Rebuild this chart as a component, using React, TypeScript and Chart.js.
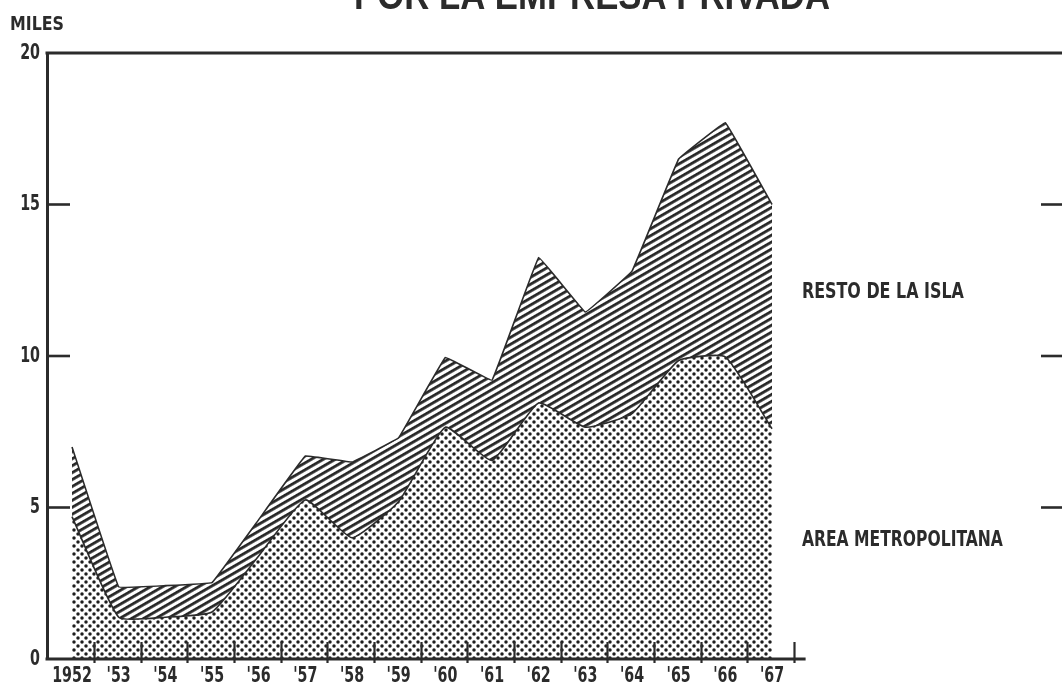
import { useEffect, useRef } from 'react';
import { Chart, registerables } from 'chart.js';

Chart.register(...registerables);

// ---- data ----
const years = [1952, 1953, 1954, 1955, 1956, 1957, 1958, 1959, 1960, 1961, 1962, 1963, 1964, 1965, 1966, 1967];
const xLabels = ['1952', "'53", "'54", "'55", "'56", "'57", "'58", "'59", "'60", "'61", "'62", "'63", "'64", "'65", "'66", "'67"];
const metroValues = [4.7, 1.38, 1.38, 1.55, 3.4, 5.25, 4.0, 5.2, 7.65, 6.55, 8.45, 7.65, 8.1, 9.85, 9.97, 7.6];
const restoValues = [2.3, 1.0, 1.04, 0.97, 1.2, 1.45, 2.5, 2.1, 2.3, 2.65, 4.8, 3.8, 4.7, 6.65, 7.73, 7.4];
const yTicks = [0, 5, 10, 15, 20];
const yTickLabels = ['0', '5', '10', '15', '20'];
const seriesNames = ['AREA METROPOLITANA', 'RESTO DE LA ISLA'];
const titleText = 'POR LA EMPRESA PRIVADA';
const yUnit = 'MILES';

const INK = '#2b2b2b';
const FONT = "'DejaVu Sans Condensed', 'DejaVu Sans', sans-serif";

function dotPattern(ctx: CanvasRenderingContext2D) {
  const c = document.createElement('canvas');
  c.width = 8;
  c.height = 8;
  const g = c.getContext('2d')!;
  g.fillStyle = '#ffffff';
  g.fillRect(0, 0, 8, 8);
  g.fillStyle = '#1e1e1e';
  for (const [px, py] of [[2, 2], [6, 6]]) {
    g.beginPath();
    g.arc(px, py, 1.75, 0, Math.PI * 2);
    g.fill();
  }
  return ctx.createPattern(c, 'repeat')!;
}

function hatchPattern(ctx: CanvasRenderingContext2D) {
  const c = document.createElement('canvas');
  c.width = 12;
  c.height = 6;
  const g = c.getContext('2d')!;
  g.fillStyle = '#ffffff';
  g.fillRect(0, 0, 12, 6);
  g.fillStyle = '#262626';
  g.fillRect(0, 0, 12, 2.8);
  const p = ctx.createPattern(c, 'repeat')!;
  p.setTransform(new DOMMatrix().rotate(-30));
  return p;
}

function drawText(ctx: CanvasRenderingContext2D, text: string, x: number, y: number, align: CanvasTextAlign, sx: number) {
  ctx.save();
  ctx.translate(x, y);
  ctx.scale(sx, 1);
  ctx.textAlign = align;
  ctx.fillText(text, 0, 0);
  ctx.restore();
}

const decor = {
  id: 'decor',
  beforeDraw(chart: any) {
    const { ctx, width, height } = chart;
    ctx.save();
    ctx.fillStyle = '#ffffff';
    ctx.fillRect(0, 0, width, height);
    ctx.restore();
  },
  afterDraw(chart: any) {
    const { ctx, chartArea: a } = chart;
    const x = chart.scales.x;
    const y = chart.scales.y;
    ctx.save();
    ctx.strokeStyle = INK;
    ctx.lineCap = 'butt';
    const yTop = y.getPixelForValue(yTicks[yTicks.length - 1]);
    const y0 = y.getPixelForValue(0);
    // top frame line
    ctx.lineWidth = 3;
    ctx.beginPath();
    ctx.moveTo(a.left - 1.5, yTop);
    ctx.lineTo(a.right, yTop);
    ctx.stroke();
    // bottom axis
    ctx.beginPath();
    ctx.moveTo(a.left - 1.5, y0);
    ctx.lineTo(x.getPixelForValue(years[years.length - 1] + 0.72), y0);
    ctx.stroke();
    // x tick marks (between years)
    ctx.lineWidth = 2.2;
    for (const yr of years) {
      const px = Math.round(x.getPixelForValue(yr + 0.47)) + 0.5;
      ctx.beginPath();
      ctx.moveTo(px, y0 - 17);
      ctx.lineTo(px, y0 + 4);
      ctx.stroke();
    }
    // y tick marks (inner left and right edge)
    ctx.lineWidth = 2.6;
    for (const v of yTicks.slice(1, -1)) {
      const py = y.getPixelForValue(v);
      ctx.beginPath();
      ctx.moveTo(a.left, py);
      ctx.lineTo(a.left + 23, py);
      ctx.stroke();
      ctx.beginPath();
      ctx.moveTo(a.right - 21, py);
      ctx.lineTo(a.right, py);
      ctx.stroke();
    }
    // tick labels
    ctx.fillStyle = INK;
    ctx.textBaseline = 'middle';
    ctx.font = `bold 22px ${FONT}`;
    years.forEach((yr, i) => {
      drawText(ctx, xLabels[i], x.getPixelForValue(yr), y0 + 17, 'center', 0.72);
    });
    yTicks.forEach((v, i) => {
      drawText(ctx, yTickLabels[i], a.left - 7, y.getPixelForValue(v), 'right', 0.72);
    });
    // texts
    ctx.font = `bold 20px ${FONT}`;
    drawText(ctx, yUnit, 10, 25, 'left', 0.88);
    ctx.textAlign = 'left';
    ctx.font = `bold 21px ${FONT}`;
    ctx.fillText(seriesNames[1], x.getPixelForValue(1967.64), y.getPixelForValue(12.1), 162);
    ctx.fillText(seriesNames[0], x.getPixelForValue(1967.64), y.getPixelForValue(3.9), 201);
    // title, cut at the top edge
    ctx.textAlign = 'center';
    ctx.textBaseline = 'alphabetic';
    ctx.font = `bold 40px 'Liberation Sans', sans-serif`;
    ctx.fillText(titleText, 592, 9, 476);
    ctx.restore();
  },
};

export default function App() {
  const ref = useRef<HTMLCanvasElement | null>(null);
  useEffect(() => {
    document.body.style.margin = '0';
    const canvas = ref.current!;
    const ctx = canvas.getContext('2d')!;
    const chart = new Chart(ctx, {
      type: 'line',
      data: {
        datasets: [
          {
            label: seriesNames[0],
            data: years.map((yr, i) => ({ x: yr, y: metroValues[i] })),
            borderColor: INK,
            borderWidth: 1.6,
            backgroundColor: dotPattern(ctx),
            fill: 'origin',
            pointRadius: 0,
            tension: 0.15,
          },
          {
            label: seriesNames[1],
            data: years.map((yr, i) => ({ x: yr, y: restoValues[i] })),
            borderColor: INK,
            borderWidth: 1.6,
            backgroundColor: hatchPattern(ctx),
            fill: '-1',
            pointRadius: 0,
            tension: 0.04,
          },
        ],
      },
      options: {
        animation: false,
        responsive: false,
        layout: { padding: { top: 53, right: 0, left: 0, bottom: 0 } },
        plugins: { legend: { display: false }, tooltip: { enabled: false }, title: { display: false } },
        scales: {
          x: {
            type: 'linear',
            min: 1951.464,
            max: 1973.214,
            grid: { display: false, drawTicks: false },
            border: { display: false },
            afterBuildTicks: (s: any) => {
              s.ticks = years.map((v) => ({ value: v }));
            },
            afterFit: (s: any) => {
              s.height = 29;
            },
            ticks: { display: false, autoSkip: false },
          },
          y: {
            stacked: true,
            min: 0,
            max: 20,
            grid: { display: false, drawTicks: false },
            border: { display: true, color: INK, width: 3 },
            afterBuildTicks: (s: any) => {
              s.ticks = yTicks.map((v) => ({ value: v }));
            },
            afterFit: (s: any) => {
              s.width = 47;
            },
            ticks: { display: false },
          },
        },
      },
      plugins: [decor],
    });
    return () => chart.destroy();
  }, []);
  return (
    <div style={{ width: 1062, height: 688 }}>
      <canvas ref={ref} width={1062} height={688} />
    </div>
  );
}
